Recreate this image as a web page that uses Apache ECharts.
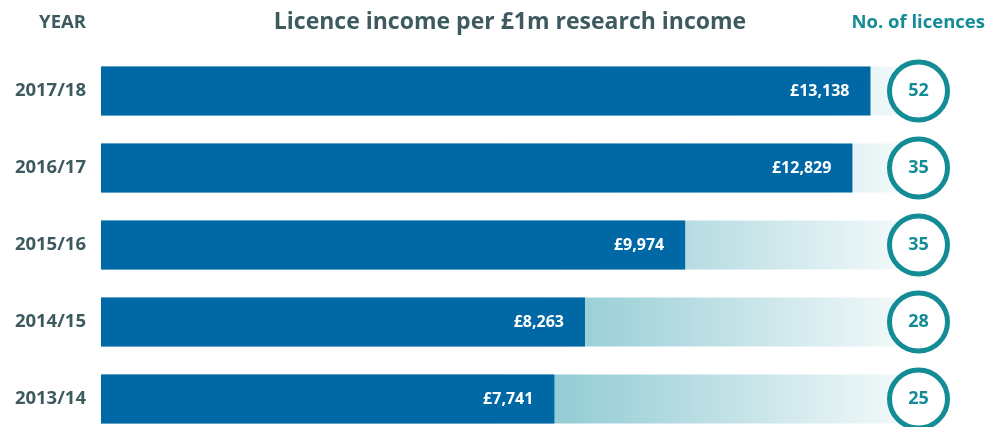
<!DOCTYPE html>
<html>
<head>
<meta charset="utf-8">
<script src="https://cdn.jsdelivr.net/npm/echarts@6/dist/echarts.min.js"></script>
<style>
  html, body { margin: 0; padding: 0; background: #fff; }
  #chart { width: 990px; height: 427px; }
</style>
</head>
<body>
<div id="chart"></div>
<script>
// data
const years = ['2017/18', '2016/17', '2015/16', '2014/15', '2013/14'];
const incomePerMillion = [13138, 12829, 9974, 8263, 7741];
const licences = [52, 35, 35, 28, 25];
const trackValue = 13600; // pale track drawn behind each bar

const slate = '#3d5a5f';
const teal = '#148c96';
const font = '"Open Sans"';

const chart = echarts.init(document.getElementById('chart'));

const option = {
  animation: false,
  textStyle: { fontFamily: font },
  grid: [
    { left: 101, top: 91, width: 820, height: 308 },
    { left: 888, top: 91, width: 61, height: 308 }
  ],
  xAxis: [
    { type: 'value', gridIndex: 0, min: 0, max: 14000, show: false },
    { type: 'value', gridIndex: 1, min: 0, max: 1, show: false }
  ],
  yAxis: [
    {
      type: 'category', gridIndex: 0, data: years, inverse: true, boundaryGap: false,
      axisLine: { show: false }, axisTick: { show: false }, splitLine: { show: false },
      axisLabel: { color: slate, fontSize: 18.5, fontWeight: 'bold', margin: 15, fontFamily: font }
    },
    {
      type: 'category', gridIndex: 1, data: years, inverse: true, boundaryGap: false, show: false
    }
  ],
  graphic: [
    {
      type: 'text', x: 86, y: 23,
      style: { text: 'YEAR', fill: slate, font: 'bold 18.5px ' + font, align: 'right', verticalAlign: 'middle' }
    },
    {
      type: 'text', x: 510, y: 22,
      style: { text: 'Licence income per £1m research income', fill: slate,
               font: 'bold 23px ' + font, align: 'center', verticalAlign: 'middle' }
    },
    {
      type: 'text', x: 985, y: 23,
      style: { text: 'No. of licences', fill: teal, font: 'bold 18.5px ' + font, align: 'right', verticalAlign: 'middle' }
    }
  ],
  series: [
    {
      type: 'bar', xAxisIndex: 0, yAxisIndex: 0,
      data: years.map(() => trackValue),
      barWidth: 49, barGap: '-100%', silent: true,
      itemStyle: {
        color: {
          type: 'linear', global: true, x: 480, y: 0, x2: 895, y2: 0,
          colorStops: [
            { offset: 0, color: '#7fc3cc' },
            { offset: 0.5, color: '#b6dce2' },
            { offset: 1, color: '#f0f8f9' }
          ]
        }
      }
    },
    {
      type: 'bar', xAxisIndex: 0, yAxisIndex: 0,
      data: incomePerMillion,
      barWidth: 49, barGap: '-100%',
      itemStyle: { color: '#0069a5' },
      label: {
        show: true, position: 'insideRight', distance: 21,
        color: '#fff', fontSize: 16, fontWeight: 'bold', fontFamily: font,
        formatter: p => '£' + p.value.toLocaleString('en-GB')
      }
    },
    {
      type: 'scatter', xAxisIndex: 1, yAxisIndex: 1,
      data: licences.map((n, i) => [0.5, years[i], n]),
      symbol: 'circle', symbolSize: 58,
      itemStyle: { color: '#fff', borderColor: teal, borderWidth: 5, opacity: 1 },
      label: {
        show: true, position: 'inside', color: teal, fontSize: 18,
        fontWeight: 'bold', fontFamily: font,
        formatter: p => String(p.value[2])
      },
      z: 5
    }
  ]
};

chart.setOption(option);
</script>
</body>
</html>
